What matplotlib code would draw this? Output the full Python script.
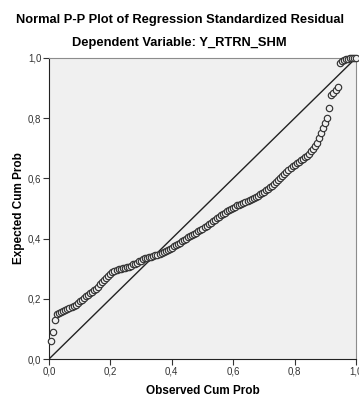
import matplotlib
matplotlib.use("Agg")
import matplotlib.pyplot as plt
from matplotlib.ticker import FuncFormatter

plt.rcParams['font.family'] = ['Liberation Sans', 'DejaVu Sans']

# observed cum prob (x) and expected cum prob (y)
observed = [
    0.0067, 0.0133, 0.0200, 0.0267, 0.0333, 0.0400, 0.0467, 0.0533, 0.0600, 0.0667,
    0.0733, 0.0800, 0.0867, 0.0933, 0.1000, 0.1067, 0.1133, 0.1200, 0.1267, 0.1333,
    0.1400, 0.1467, 0.1533, 0.1600, 0.1667, 0.1733, 0.1800, 0.1867, 0.1933, 0.2000,
    0.2067, 0.2133, 0.2200, 0.2267, 0.2333, 0.2400, 0.2467, 0.2533, 0.2600, 0.2667,
    0.2733, 0.2800, 0.2867, 0.2933, 0.3000, 0.3067, 0.3133, 0.3200, 0.3267, 0.3333,
    0.3400, 0.3467, 0.3533, 0.3600, 0.3667, 0.3733, 0.3800, 0.3867, 0.3933, 0.4000,
    0.4067, 0.4133, 0.4200, 0.4267, 0.4333, 0.4400, 0.4467, 0.4533, 0.4600, 0.4667,
    0.4733, 0.4800, 0.4867, 0.4933, 0.5000, 0.5067, 0.5133, 0.5200, 0.5267, 0.5333,
    0.5400, 0.5467, 0.5533, 0.5600, 0.5667, 0.5733, 0.5800, 0.5867, 0.5933, 0.6000,
    0.6067, 0.6133, 0.6200, 0.6267, 0.6333, 0.6400, 0.6467, 0.6533, 0.6600, 0.6667,
    0.6733, 0.6800, 0.6867, 0.6933, 0.7000, 0.7067, 0.7133, 0.7200, 0.7267, 0.7333,
    0.7400, 0.7467, 0.7533, 0.7600, 0.7667, 0.7733, 0.7800, 0.7867, 0.7933, 0.8000,
    0.8067, 0.8133, 0.8200, 0.8267, 0.8333, 0.8400, 0.8467, 0.8533, 0.8600, 0.8667,
    0.8733, 0.8800, 0.8867, 0.8933, 0.9000, 0.9067, 0.9133, 0.9200, 0.9267, 0.9333,
    0.9400, 0.9467, 0.9533, 0.9600, 0.9667, 0.9733, 0.9800, 0.9867, 0.9933, 1.0000,
]
expected = [
    0.060, 0.091, 0.130, 0.148, 0.153, 0.156, 0.159, 0.162, 0.167, 0.171,
    0.174, 0.177, 0.180, 0.187, 0.193, 0.197, 0.203, 0.208, 0.213, 0.219,
    0.224, 0.229, 0.234, 0.240, 0.248, 0.255, 0.262, 0.269, 0.277, 0.283,
    0.288, 0.292, 0.296, 0.298, 0.300, 0.302, 0.303, 0.305, 0.307, 0.310,
    0.314, 0.317, 0.320, 0.324, 0.327, 0.331, 0.334, 0.337, 0.339, 0.340,
    0.342, 0.344, 0.346, 0.348, 0.351, 0.355, 0.358, 0.362, 0.366, 0.370,
    0.374, 0.379, 0.383, 0.387, 0.391, 0.395, 0.399, 0.404, 0.408, 0.412,
    0.416, 0.420, 0.424, 0.428, 0.432, 0.437, 0.442, 0.447, 0.452, 0.457,
    0.462, 0.467, 0.473, 0.478, 0.482, 0.486, 0.490, 0.494, 0.499, 0.503,
    0.506, 0.510, 0.513, 0.516, 0.519, 0.522, 0.525, 0.528, 0.531, 0.535,
    0.539, 0.543, 0.547, 0.551, 0.555, 0.560, 0.565, 0.570, 0.575, 0.581,
    0.587, 0.594, 0.601, 0.608, 0.615, 0.621, 0.628, 0.634, 0.640, 0.646,
    0.651, 0.656, 0.660, 0.665, 0.670, 0.675, 0.680, 0.690, 0.698, 0.706,
    0.716, 0.735, 0.751, 0.766, 0.784, 0.800, 0.834, 0.878, 0.884, 0.895,
    0.903, 0.983, 0.989, 0.994, 0.996, 0.998, 0.999, 0.9995, 1.000, 1.000,
]
ticks = [0.0, 0.2, 0.4, 0.6, 0.8, 1.0]

fig = plt.figure(figsize=(3.59, 3.97), dpi=100)
ax = fig.add_axes([0.1365, 0.0957, 0.8551, 0.7583])
ax.set_facecolor('#f0f0f0')

ax.plot([0, 1], [0, 1], color='#222222', lw=1.0, zorder=2)
ax.plot(observed, expected, ls='none', marker='o', ms=4.6, mfc='#f0f0f0',
        mec='#333333', mew=0.85, zorder=3, clip_on=False)

ax.set_xlim(0, 1)
ax.set_ylim(0, 1)
ax.set_xticks(ticks)
ax.set_yticks(ticks)
comma = FuncFormatter(lambda v, p: f"{v:.1f}".replace('.', ','))
ax.xaxis.set_major_formatter(comma)
ax.yaxis.set_major_formatter(comma)
ax.tick_params(direction='out', length=4, width=0.8, labelsize=7, colors='#333333', pad=1.5)

for side in ['top', 'right']:
    ax.spines[side].set_color('#8c8c8c')
for side in ['left', 'bottom']:
    ax.spines[side].set_color('#222222')

ax.set_xlabel("Observed Cum Prob", fontsize=8.5, fontweight='bold', labelpad=6)
ax.set_ylabel("Expected Cum Prob", fontsize=8.5, fontweight='bold', labelpad=2)

fig.text(0.5, 0.950, "Normal P-P Plot of Regression Standardized Residual",
         ha='center', va='center', fontsize=9.3, fontweight='bold')
fig.text(0.5, 0.892, "Dependent Variable: Y_RTRN_SHM",
         ha='center', va='center', fontsize=9.3, fontweight='bold')

fig.savefig("out.png", dpi=100)
